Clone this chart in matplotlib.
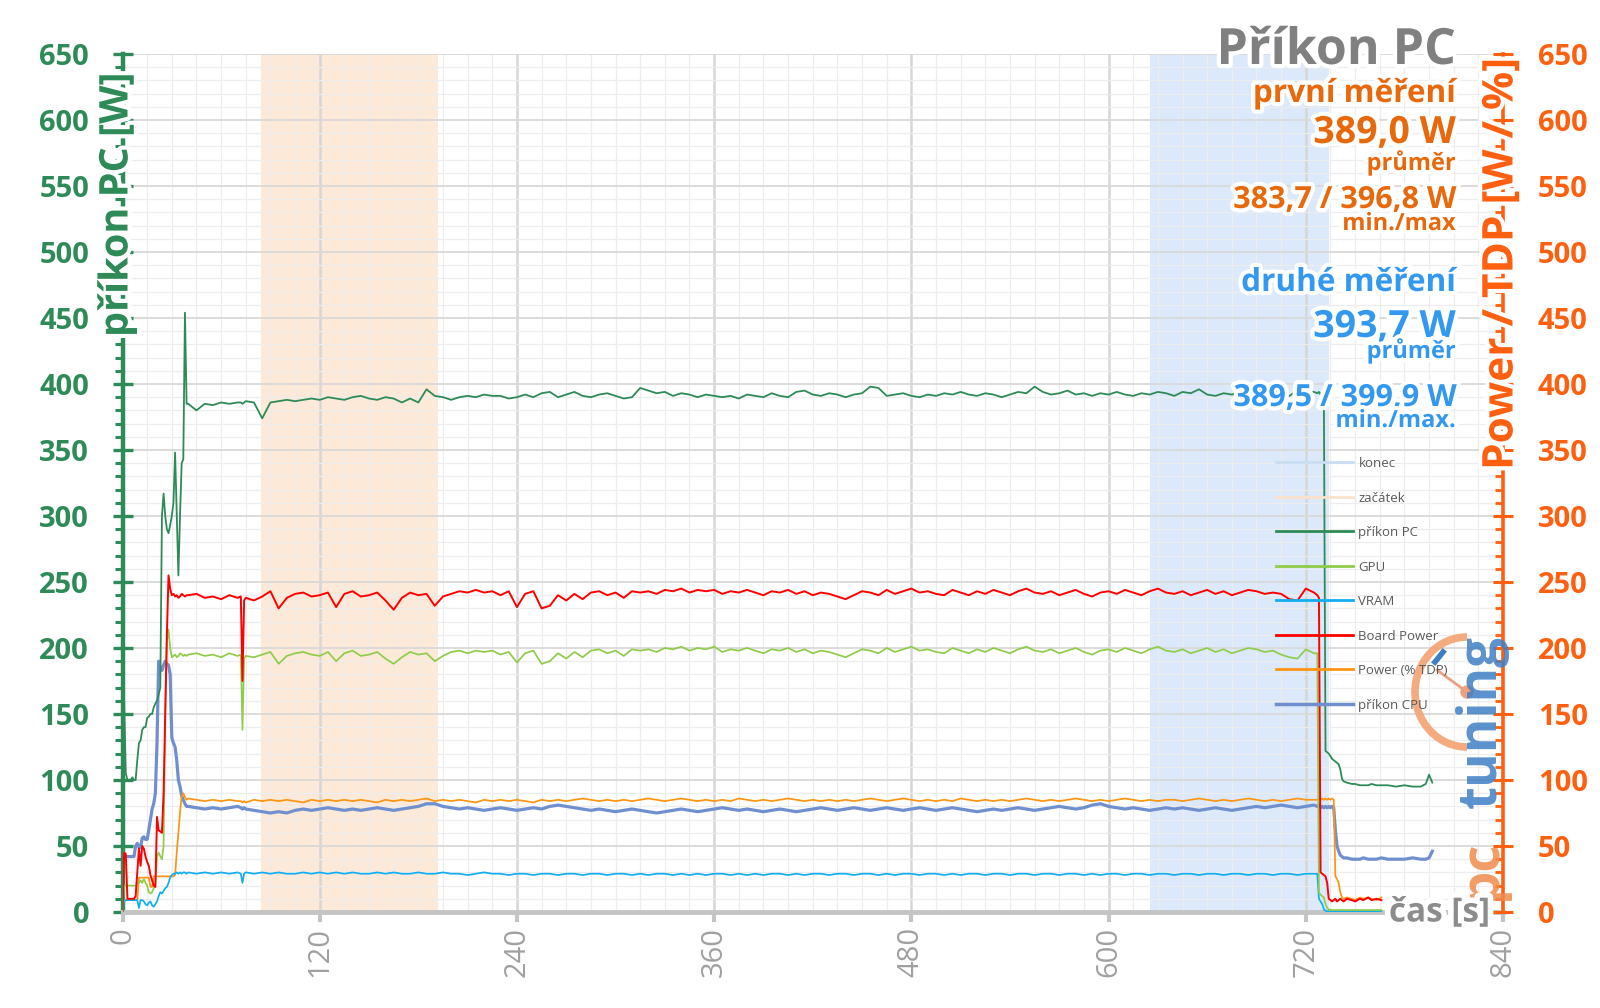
import matplotlib
matplotlib.use('Agg')
import matplotlib.pyplot as plt
import numpy as np
from matplotlib.lines import Line2D
from matplotlib.patches import Arc, Circle
import matplotlib.patheffects as pe
from matplotlib.ticker import MultipleLocator

plt.rcParams['font.family'] = ['Open Sans', 'DejaVu Sans']

# ---------------- data ----------------
t_start = list(range(0, 40))
t_mid = [40, 45, 50, 55, 60, 65, 70, 72, 73, 74] + list(range(75, 726, 5))
t_end = [727, 728, 729, 730, 731, 732, 733, 734, 735, 736, 737, 738, 739, 740, 741, 742, 743,
         745, 748, 750, 753, 755, 758, 760, 763, 766, 770, 775, 780, 785, 790, 793, 795, 797]
N = None

pc_start = [200, 160, 105, 100, 100, 100, 102, 100, 100, 115, 128, 130, 138, 140, 140, 147, 148, 150, 150, 155,
            158, 160, 165, 170, 300, 317, 300, 290, 287, 293, 300, 310, 348, 300, 255, 300, 340, 343, 454, 385]
pc_mid = [385, 380, 385, 384, 386, 385, 386, 386, 385, 386, 387, 386, 374,
          386, 387, 388, 387, 388, 389, 388, 390, 389, 388,
          390, 391, 389, 388, 390, 389, 386, 389, 386, 396,
          391, 390, 388, 390, 391, 390, 392, 391, 391, 389,
          390, 392, 390, 393, 394, 390, 392, 394, 391, 390,
          392, 393, 391, 389, 390, 397, 395, 393, 394, 391,
          393, 392, 390, 392, 391, 390, 391, 389, 392, 391,
          390, 393, 391, 390, 394, 395, 392, 391, 393, 392,
          390, 392, 393, 398, 397, 391, 392, 393, 391, 390,
          392, 391, 393, 392, 394, 392, 391, 393, 392, 390,
          392, 394, 393, 398, 394, 392, 393, 395, 392, 393,
          391, 393, 392, 394, 392, 391, 393, 392, 394, 393,
          391, 394, 393, 396, 392, 391, 393, 392, 394, 399,
          393, 392, 394, 393, 391, 395, 393, 394]
pc_end = [393, 394, 392, 393, 390, 122, 121, 120, 118, 116, 115, 114, 113, 112, 108, 101, 99,
          98, 97, 97, 96, 96, 96, 97, 96, 96, 96, 95, 96, 95, 95, 97, 104, 98]

gpu_start = [0, 20, 20, 20, 20, 20, 20, 20, 20, 22, 22, 24, 22, 25, 22, 20, 15, 14, 15, 18,
             22, 42, 45, 42, 40, 50, 150, 205, 214, 200, 193, 194, 195, 193, 194, 196, 195, 194, 195, 194]
gpu_mid = [195, 196, 194, 195, 193, 196, 194, 195, 138, 192, 194, 193, 195,
           197, 188, 194, 196, 197, 195, 194, 197, 190, 196,
           198, 194, 195, 197, 192, 188, 193, 197, 195, 196,
           190, 194, 197, 198, 196, 198, 197, 198, 195, 197,
           189, 196, 198, 188, 190, 196, 192, 197, 193, 198,
           199, 196, 198, 194, 199, 198, 199, 197, 200, 199,
           201, 198, 200, 199, 201, 197, 199, 198, 200, 198,
           196, 199, 198, 200, 197, 199, 196, 198, 197, 195,
           193, 196, 199, 198, 196, 200, 197, 199, 201, 198,
           199, 197, 196, 200, 198, 196, 199, 197, 200, 198,
           196, 199, 201, 198, 197, 199, 196, 198, 200, 197,
           195, 198, 199, 197, 200, 198, 196, 199, 201, 198,
           197, 199, 196, 198, 200, 197, 199, 196, 198, 200,
           199, 197, 198, 195, 193, 192, 199, 196]
gpu_end = [196, 15, 13, 12, 11, 6, 3, 2, 1.5, 1.5, 1.5, 1.5, 1.5, 1.5, 1.5, 1.5, 1.5,
           1.5, 1.5, 1.5, 1.5, 1.5, 1.5, 1.5, 1.5, 1.5, N, N, N, N, N, N, N, N]

vram_start = [0, 8, 9, 9, 9, 9, 9, 9, 9, 9, 3, 9, 9, 8, 6, 5, 7, 8, 5, 4,
              6, 8, 12, 15, 14, 16, 18, 19, 22, 26, 28, 29, 29, 30, 29, 30, 29, 30, 30, 29]
vram_mid = [30, 29, 30, 29, 30, 29, 30, 29, 22, 29, 30, 29, 30,
            29, 30, 29, 29, 30, 29, 30, 29, 30, 29,
            30, 29, 29, 30, 29, 30, 29, 29, 30, 29,
            29, 30, 29, 29, 28, 29, 30, 29, 29, 28,
            29, 29, 28, 29, 29, 28, 29, 29, 28, 29,
            29, 28, 29, 29, 28, 29, 28, 29, 29, 28,
            29, 28, 29, 28, 29, 29, 28, 29, 28, 29,
            28, 29, 29, 28, 29, 28, 29, 29, 28, 29,
            29, 28, 29, 29, 28, 29, 28, 29, 29, 28,
            29, 29, 28, 29, 28, 29, 29, 28, 29, 29,
            28, 29, 29, 28, 29, 29, 28, 29, 29, 28,
            29, 28, 29, 29, 28, 29, 29, 28, 29, 29,
            28, 29, 29, 28, 29, 29, 28, 29, 29, 28,
            29, 29, 28, 29, 29, 28, 29, 29]
vram_end = [29, 10, 8, 6, 2, 1, 0.5, 0.5, 0.5, 0.5, 0.5, 0.5, 0.5, 0.5, 0.5, 0.5, 0.5,
            0.5, 0.5, 0.5, 0.5, 0.5, 0.5, 0.5, 0.5, 0.5, N, N, N, N, N, N, N, N]

board_start = [0, 45, 44, 10, 10, 10, 10, 10, 12, 30, 48, 35, 50, 48, 42, 38, 35, 28, 24, 20,
               19, 72, 62, 61, 60, 90, 150, 210, 255, 245, 240, 241, 239, 240, 238, 239, 241, 240, 239, 240]
board_mid = [240, 241, 238, 239, 237, 240, 238, 239, 175, 236, 238, 236, 239,
             243, 230, 238, 241, 242, 239, 240, 242, 231, 241,
             243, 239, 240, 242, 236, 229, 238, 242, 240, 241,
             232, 239, 241, 243, 242, 244, 242, 243, 240, 243,
             231, 241, 243, 230, 232, 240, 236, 241, 237, 242,
             243, 240, 242, 238, 243, 242, 243, 241, 244, 243,
             245, 242, 244, 243, 244, 241, 243, 242, 244, 242,
             240, 243, 242, 244, 241, 243, 240, 242, 241, 239,
             237, 240, 243, 242, 240, 244, 241, 243, 245, 242,
             243, 241, 240, 244, 242, 240, 243, 241, 244, 242,
             240, 243, 245, 242, 241, 243, 240, 242, 244, 241,
             239, 242, 243, 241, 244, 242, 240, 243, 245, 242,
             241, 243, 240, 242, 244, 241, 243, 240, 242, 244,
             243, 241, 242, 241, 237, 236, 245, 242]
board_end = [240, 238, 30, 29, 28, 27, 22, 10, 9, 8, 9, 10, 8, 9, 10, 9, 8,
             10, 9, 8, 10, 9, 11, 9, 10, 9, N, N, N, N, N, N, N, N]

tdp_start = [5, 9, 9, 9, 9, 9, 9, 9, 9, 9, 26, 26, 26, 26, 26, 26, 26, 19, 19, 27,
             27, 27, 27, 27, 27, 27, 27, 27, 27, 27, 27, 27, 28, 45, 60, 75, 88, 90, 87, 85]
tdp_mid = [86, 85, 84, 85, 84, 85, 84, 84, 83, 84, 83, 85, 84,
           85, 84, 85, 84, 83, 85, 84, 85, 84, 85,
           84, 85, 84, 83, 85, 84, 85, 84, 85, 86,
           84, 85, 84, 85, 84, 83, 85, 84, 85, 84,
           85, 84, 83, 85, 84, 85, 84, 85, 86, 85,
           84, 85, 84, 85, 84, 85, 86, 85, 84, 85,
           86, 85, 84, 85, 84, 85, 84, 86, 85, 84,
           85, 84, 85, 86, 85, 84, 85, 84, 85, 84,
           85, 84, 85, 86, 85, 84, 85, 86, 85, 84,
           85, 84, 85, 84, 86, 85, 84, 85, 84, 85,
           84, 85, 86, 85, 84, 85, 84, 85, 86, 85,
           84, 85, 84, 85, 86, 85, 84, 85, 84, 85,
           85, 84, 85, 86, 85, 84, 85, 84, 85, 86,
           85, 84, 85, 84, 85, 86, 85, 85]
tdp_end = [85, 86, 85, 86, 85, 86, 85, 86, 85, 86, 85, 27, 25, 22, 15, 11, 10,
           11, 10, 9, 11, 10, 11, 10, 9, 11, N, N, N, N, N, N, N, N]

cpu_start = [45, 42, 42, 42, 42, 42, 42, 42, 50, 52, 49, 49, 56, 57, 55, 55, 62, 70, 78, 82,
             90, 128, 190, 185, 183, 187, 190, 188, 187, 180, 132, 128, 125, 115, 100, 95, 88, 85, 82, 80]
cpu_mid = [80, 79, 78, 79, 78, 79, 80, 79, 78, 79, 78, 77, 76,
           75, 76, 75, 77, 78, 77, 78, 79, 78, 77,
           78, 77, 78, 79, 78, 77, 78, 79, 80, 82,
           82, 80, 79, 78, 79, 78, 77, 78, 79, 78,
           77, 78, 79, 78, 80, 81, 80, 79, 78, 77,
           78, 77, 76, 77, 78, 77, 76, 75, 76, 77,
           78, 77, 76, 77, 78, 79, 78, 77, 78, 77,
           76, 77, 78, 77, 76, 77, 78, 79, 78, 77,
           78, 79, 78, 77, 78, 79, 78, 77, 78, 79,
           78, 77, 78, 79, 78, 77, 76, 77, 78, 77,
           78, 79, 78, 77, 78, 79, 80, 79, 78, 79,
           81, 82, 80, 79, 78, 79, 78, 77, 78, 79,
           78, 79, 78, 77, 78, 79, 78, 77, 78, 79,
           80, 79, 80, 81, 80, 79, 80, 81]
cpu_end = [80, 81, 79, 80, 79, 80, 79, 80, 79, 80, 79, 62, 50, 46, 43, 42, 41,
           41, 40, 40, 40, 41, 40, 40, 40, 41, 40, 40, 40, 41, 40, 40, 41, 46]

zacatek_span = (84, 192)
konec_span = (625, 734)

x_ticks = [0, 120, 240, 360, 480, 600, 720, 840]
y_ticks = list(range(0, 651, 50))

series_labels = ['konec', 'začátek', 'příkon PC', 'GPU', 'VRAM', 'Board Power', 'Power (% TDP)', 'příkon CPU']

info_first = ['první měření', '389,0 W', 'průměr', '383,7 / 396,8 W', 'min./max']
info_second = ['druhé měření', '393,7 W', 'průměr', '389,5 / 399,9 W', 'min./max.']


def full(a, b, c):
    return np.array([np.nan if v is None else v for v in (a + b + c)], dtype=float)


t = np.array(t_start + t_mid + t_end, dtype=float)
pc = full(pc_start, pc_mid, pc_end)
gpu = full(gpu_start, gpu_mid, gpu_end)
vram = full(vram_start, vram_mid, vram_end)
board = full(board_start, board_mid, board_end)
tdp = full(tdp_start, tdp_mid, tdp_end)
cpu = full(cpu_start, cpu_mid, cpu_end)

# ---------------- styling ----------------
W, H = 1600, 1008
fig = plt.figure(figsize=(W / 100, H / 100), dpi=100)
fig.patch.set_facecolor('white')

x0, x1, ytop, ybot = 122.5, 1503, 54, 912
ax = fig.add_axes([x0 / W, 1 - ybot / H, (x1 - x0) / W, (ybot - ytop) / H])
ax.set_xlim(0, 840)
ax.set_ylim(0, 650)

GREEN = '#2e8b57'
ORANGE_AX = '#ff6010'
ORANGE_TX = '#e8680c'
BLUE_TX = '#3399f0'
GRAY = '#8c8c8c'

ax.set_axisbelow(True)
ax.xaxis.set_major_locator(MultipleLocator(120))
ax.xaxis.set_minor_locator(MultipleLocator(15))
ax.yaxis.set_major_locator(MultipleLocator(50))
ax.yaxis.set_minor_locator(MultipleLocator(10))
ax.grid(which='major', axis='y', color='#d9d9d9', lw=1.3)
ax.grid(which='minor', axis='y', color='#ededed', lw=0.9)
ax.grid(which='major', axis='x', color='#d6d6d6', lw=1.8)
ax.grid(which='minor', axis='x', color='#ededed', lw=0.9)

ax.axvspan(*zacatek_span, color='#fde9d7', zorder=0.2, lw=0)
ax.axvspan(*konec_span, color='#dbe9fa', zorder=0.2, lw=0)

lw_thin = 1.25
ax.plot(t, cpu, color='#6f8fcf', lw=2.3, zorder=3.0)
ax.plot(t, tdp, color='#ff9412', lw=lw_thin, zorder=3.1)
ax.plot(t, vram, color='#12aef0', lw=lw_thin, zorder=3.2)
ax.plot(t, gpu, color='#8fcc4a', lw=lw_thin, zorder=3.3)
ax.plot(t, board, color='#ff0000', lw=1.4, zorder=3.4)
ax.plot(t, pc, color='#2e8b57', lw=1.3, zorder=3.5)

# spines
ax.spines['top'].set_visible(False)
ax.spines['left'].set_color(GREEN)
ax.spines['left'].set_linewidth(3.2)
ax.spines['right'].set_visible(False)
ax.spines['bottom'].set_color('#c4c4c4')
ax.spines['bottom'].set_linewidth(3.5)

ax.set_xticks(x_ticks)
ax.set_xticklabels([str(v) for v in x_ticks], rotation=90)
ax.tick_params(axis='x', which='major', length=7, width=3, color='#c4c4c4', pad=4,
               labelsize=21, labelcolor='#a0a0a0')
ax.tick_params(axis='x', which='minor', length=0)
ax.set_yticks(y_ticks)
ax.tick_params(axis='y', which='major', direction='inout', length=14, width=2.4, color=GREEN,
               pad=17, labelsize=21, labelcolor=GREEN)
ax.tick_params(axis='y', which='minor', direction='out', length=6, width=2.2, color=GREEN)
for lab in ax.get_yticklabels():
    lab.set_fontweight('bold')

ax2 = ax.twinx()
ax2.set_ylim(0, 650)
ax2.set_yticks(y_ticks)
ax2.yaxis.set_minor_locator(MultipleLocator(10))
for s in ['top', 'left', 'bottom']:
    ax2.spines[s].set_visible(False)
ax2.spines['right'].set_color(ORANGE_AX)
ax2.spines['right'].set_linewidth(2.6)
ax2.tick_params(axis='y', which='major', direction='inout', length=14, width=2.2, color=ORANGE_AX,
                pad=18, labelsize=21, labelcolor=ORANGE_AX)
ax2.tick_params(axis='y', which='minor', direction='in', length=6, width=2.0, color=ORANGE_AX)
for lab in ax2.get_yticklabels():
    lab.set_fontweight('bold')

glow = [pe.withStroke(linewidth=6, foreground='white')]

# axis titles
fig.text(117 / W, 1 - 337 / H, 'příkon PC [W]', rotation=90, ha='center', va='bottom',
         fontsize=28.5, fontweight='bold', color=GREEN, path_effects=glow, zorder=10)
fig.text(1502 / W, 1 - 470 / H, 'Power / TDP [W / %]', rotation=90, ha='center', va='bottom',
         fontsize=30.5, fontweight='bold', color=ORANGE_AX, path_effects=glow, zorder=10)
fig.text(1490 / W, 1 - 913 / H, 'čas [s]', ha='right', va='center', fontsize=24, fontweight='bold',
         color=GRAY, path_effects=[pe.withStroke(linewidth=8, foreground='white')], zorder=10)

# title and info block
xr = 1456 / W
fig.text(xr, 1 - 64 / H, 'Příkon PC', ha='right', va='baseline', fontsize=36, fontweight='bold',
         color='#808080', path_effects=glow, zorder=10)
sizes = [22.7, 27, 17, 22, 17]
base1 = [102, 143, 170, 208, 230]
base2 = [291, 337, 358, 406, 427]
for txt, fs, b in zip(info_first, sizes, base1):
    fig.text(xr, 1 - b / H, txt, ha='right', va='baseline', fontsize=fs, fontweight='bold',
             color=ORANGE_TX, path_effects=glow, zorder=10)
for txt, fs, b in zip(info_second, sizes, base2):
    fig.text(xr, 1 - b / H, txt, ha='right', va='baseline', fontsize=fs, fontweight='bold',
             color=BLUE_TX, path_effects=glow, zorder=10)

# legend
handles = [Line2D([], [], color='#c9ddf2', lw=2),
           Line2D([], [], color='#fbe1cb', lw=2),
           Line2D([], [], color='#2e8b57', lw=2),
           Line2D([], [], color='#8fcc4a', lw=2),
           Line2D([], [], color='#12aef0', lw=2),
           Line2D([], [], color='#ff0000', lw=2),
           Line2D([], [], color='#ff9412', lw=2),
           Line2D([], [], color='#6f8fcf', lw=2.5)]
leg = fig.legend(handles, series_labels, loc='upper left', bbox_to_anchor=(1276 / W, 1 - 457 / H),
                 frameon=False, fontsize=9.5, handlelength=5.8, handletextpad=0.45, labelspacing=1.63,
                 borderpad=0, borderaxespad=0, labelcolor='#595959')
leg.set_zorder(9)

# watermark logo (pctuning)
fig.text(1482 / W, 1 - 900 / H, 'pc', rotation=90, ha='center', va='bottom', fontsize=38,
         fontweight='bold', color='#f08a4b', alpha=0.85, zorder=4)
fig.text(1482 / W, 1 - 808 / H, 'tuning', rotation=90, ha='center', va='bottom', fontsize=38,
         fontweight='bold', color='#3f7fc4', alpha=0.85, zorder=4)
tr = fig.dpi_scale_trans
cx, cy = 1467 / 100, (H - 692) / 100
fig.add_artist(Arc((cx, cy), 1.04, 1.10, theta1=90, theta2=270, transform=tr,
                   color='#f4a272', lw=5.5, alpha=0.9, zorder=4))
fig.add_artist(Line2D([cx, 14.37], [cy, (H - 670) / 100], transform=tr, color='#f0a07e', lw=2, zorder=4))
fig.add_artist(Circle((cx, cy), 0.06, transform=tr, color='#f0a07e', zorder=4))
fig.add_artist(Line2D([14.35, 14.43], [(H - 662) / 100, (H - 652) / 100], transform=tr,
                      color='#3f7fc4', lw=4, zorder=4))

fig.savefig('out.png', dpi=100, facecolor='white')
